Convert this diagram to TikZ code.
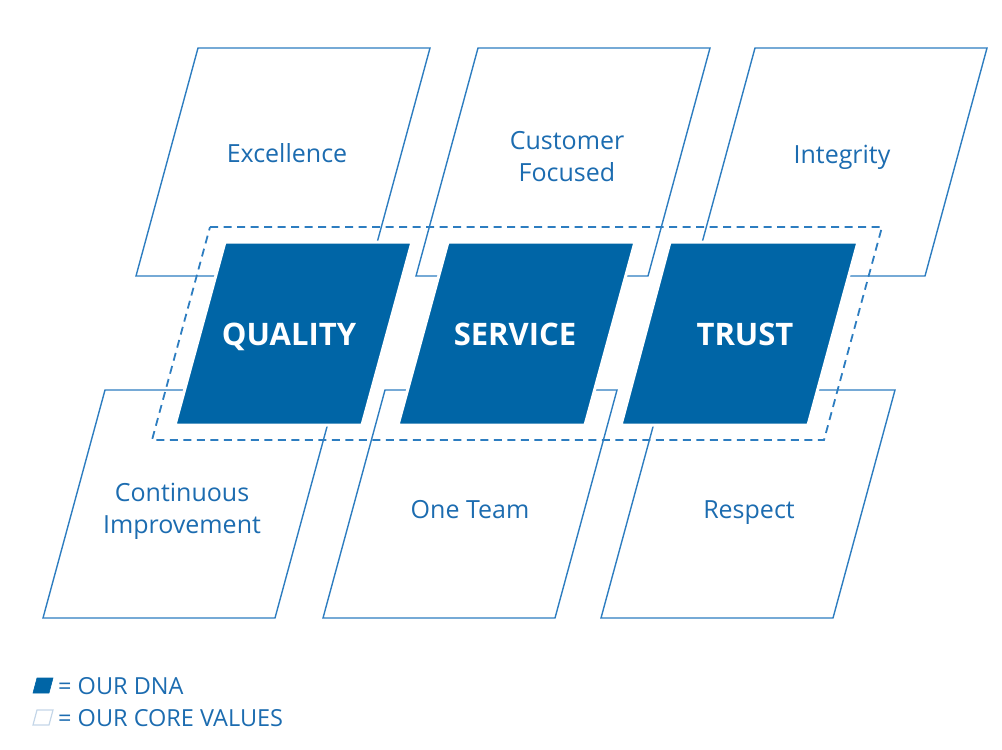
\documentclass[tikz,border=0pt]{standalone}
\usepackage{fontspec}
\setmainfont{Open Sans}
\usepackage{tikz}
\usetikzlibrary{positioning}
\definecolor{valline}{RGB}{45,125,192}
\definecolor{valtext}{RGB}{28,108,176}
\definecolor{dnablue}{RGB}{0,101,166}
\definecolor{legline}{RGB}{196,214,232}

\begin{document}
\begin{tikzpicture}[x=1pt,y=-1pt,
		value/.style={draw=valline, line width=1.4pt, line join=miter},
		dna/.style={fill=dnablue, draw=white, line width=3pt},
		ring/.style={draw=valline, line width=1.8pt, dash pattern=on 8pt off 5.5pt},
		vallabel/.style={text=valtext, font=\fontsize{25}{32}\selectfont, align=center},
		dnalabel/.style={text=white, font=\bfseries\fontsize{31}{36}\selectfont, text height=22pt, text depth=0pt},
		leglabel/.style={text=valtext, font=\fontsize{23.5}{26}\selectfont, anchor=west, inner sep=0pt}]
	\useasboundingbox (0,0) rectangle (1002,750);
	
	% Core values, upper row
	\draw[value] (198,48) -- (430,48) -- (368,276) -- (136,276) -- cycle;
	\draw[value] (478,48) -- (710,48) -- (648,276) -- (416,276) -- cycle;
	\draw[value] (755,48) -- (987,48) -- (925,276) -- (693,276) -- cycle;
	
	% Core values, lower row
	\draw[value] (105,390) -- (337,390) -- (275,618) -- (43,618) -- cycle;
	\draw[value] (385,390) -- (617,390) -- (555,618) -- (323,618) -- cycle;
	\draw[value] (663,390) -- (895,390) -- (833,618) -- (601,618) -- cycle;
	
	% DNA band (dashed)
	\draw[ring] (210,227) -- (882,227) -- (824,440) -- (152,440) -- cycle;
	
	% DNA blocks
	\draw[dna] (225,242) -- (412,242) -- (362,425) -- (175,425) -- cycle;
	\draw[dna] (448,242) -- (635,242) -- (585,425) -- (398,425) -- cycle;
	\draw[dna] (670,242) -- (858,242) -- (808,425) -- (621,425) -- cycle;
	
	% Labels
	\node[vallabel] (excel) at (287,153) {Excellence};
	\node[vallabel] (custfoc) at (567,157) {Customer\\Focused};
	\node[vallabel] (integ) at (842,157) {Integrity};
	\node[dnalabel] (qual) at (289,334) {QUALITY};
	\node[dnalabel] (serv) at (515,334) {SERVICE};
	\node[dnalabel] (trust) at (745,334) {TRUST};
	\node[vallabel] (contimp) at (182,511) {Continuous\\Improvement};
	\node[vallabel] (oneteam) at (470,510) {One Team};
	\node[vallabel] (respect) at (749,513) {Respect};
	
	% Legend
	\draw[fill=dnablue, draw=dnablue, line width=0.6pt] (37,678) -- (53,678) -- (49,693) -- (33,693) -- cycle;
	\draw[draw=legline, line width=1.2pt] (37,710) -- (53,710) -- (49,725) -- (33,725) -- cycle;
	\node[leglabel] (dnakey) at (58,686) {= OUR DNA};
	\node[leglabel] (valkey) at (58,718) {= OUR CORE VALUES};
\end{tikzpicture}
\end{document}
